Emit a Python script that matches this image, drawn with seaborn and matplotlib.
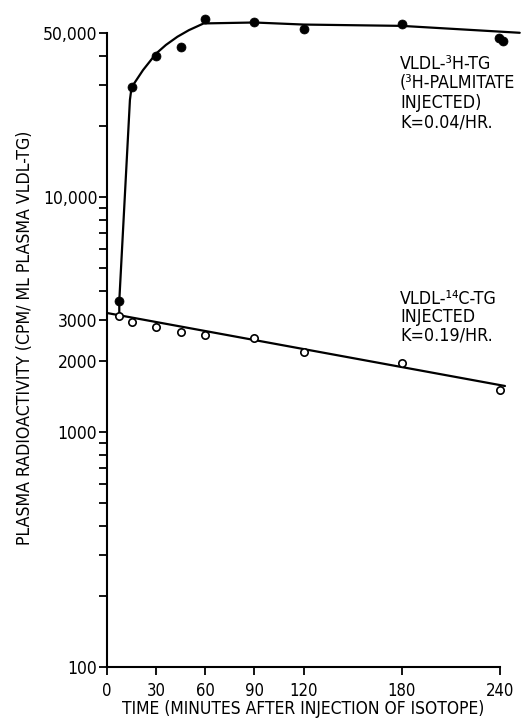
import matplotlib
matplotlib.use("Agg")
import matplotlib.pyplot as plt
from matplotlib import font_manager as fm
from matplotlib.ticker import FixedLocator, FixedFormatter, NullLocator
import pandas as pd
import seaborn as sns

# ---------------- data ----------------
h3_time = [7.5, 15, 30, 45, 60, 90, 120, 180, 239.5, 241.5]
h3_cpm = [3610, 29300, 39900, 43600, 57100, 55600, 51900, 54500, 47600, 46100]

c14_time = [7.5, 15, 30, 45, 60, 90, 120, 180, 240]
c14_cpm = [3120, 2930, 2800, 2670, 2590, 2520, 2190, 1970, 1510]

h3_curve_time = [7.5, 7.5, 14, 15, 22, 30, 36, 43, 50, 59, 90, 120, 180, 252]
h3_curve_cpm = [3120, 3610, 25900, 29300, 34700, 40800, 44400, 48100, 51300,
                54800, 55300, 54200, 53500, 50000]

c14_fit_time = [0, 243]
c14_fit_cpm = [3210, 1570]

x_ticks = [0, 30, 60, 90, 120, 180, 240]
x_tick_labels = ["0", "30", "60", "90", "120", "180", "240"]
y_ticks = [100, 200, 300, 400, 500, 600, 700, 800, 900,
           1000, 2000, 3000, 4000, 5000, 6000, 7000, 8000, 9000,
           10000, 20000, 30000, 40000, 50000]
y_tick_labels = ["100", "", "", "", "", "", "", "", "",
                 "1000", "2000", "3000", "", "", "", "", "", "",
                 "10,000", "", "", "", "50,000"]

label_h3 = "VLDL-\u00b3H-TG\n(\u00b3H-PALMITATE\nINJECTED)\nK=0.04/HR."
label_c14 = "VLDL-\u00b9\u2074C-TG\nINJECTED\nK=0.19/HR."
x_label = "TIME (MINUTES AFTER INJECTION OF ISOTOPE)"
y_label = "PLASMA RADIOACTIVITY (CPM/ ML PLASMA VLDL-TG)"

# ---------------- style ----------------
sns.set_theme(style="ticks")
family = "DejaVu Sans"
stretch = "normal"
if any(f.name == "DejaVu Sans" and str(f.stretch) == "condensed" for f in fm.fontManager.ttflist):
    stretch = "condensed"
plt.rcParams["font.family"] = [family]
plt.rcParams["font.stretch"] = stretch
plt.rcParams["axes.linewidth"] = 1.5
plt.rcParams["xtick.major.width"] = 1.3
plt.rcParams["ytick.major.width"] = 1.3
plt.rcParams["xtick.color"] = "black"
plt.rcParams["ytick.color"] = "black"
plt.rcParams["axes.edgecolor"] = "black"
plt.rcParams["text.color"] = "black"
plt.rcParams["axes.labelcolor"] = "black"

fig = plt.figure(figsize=(5.24, 7.27), dpi=100)
ax = fig.add_axes([0.2042, 0.0825, 0.797, 0.898])

curve_df = pd.DataFrame({"t": h3_curve_time, "cpm": h3_curve_cpm})
fit_df = pd.DataFrame({"t": c14_fit_time, "cpm": c14_fit_cpm})
h3_df = pd.DataFrame({"t": h3_time, "cpm": h3_cpm})
c14_df = pd.DataFrame({"t": c14_time, "cpm": c14_cpm})

sns.lineplot(data=curve_df, x="t", y="cpm", estimator=None, sort=False,
             color="black", linewidth=1.6, ax=ax)
sns.lineplot(data=fit_df, x="t", y="cpm", estimator=None, sort=False,
             color="black", linewidth=1.6, ax=ax)
sns.scatterplot(data=h3_df, x="t", y="cpm", marker="o", s=42, color="black",
                edgecolor="black", linewidth=0.5, zorder=4, ax=ax)
sns.scatterplot(data=c14_df, x="t", y="cpm", marker="o", s=28, color="white",
                edgecolor="black", linewidth=1.2, zorder=4, ax=ax)

ax.set_yscale("log")
ax.set_xlim(0, 255)
ax.set_ylim(100, 60000)
ax.xaxis.set_major_locator(FixedLocator(x_ticks))
ax.xaxis.set_major_formatter(FixedFormatter(x_tick_labels))
ax.yaxis.set_major_locator(FixedLocator(y_ticks))
ax.yaxis.set_major_formatter(FixedFormatter(y_tick_labels))
ax.yaxis.set_minor_locator(NullLocator())
ax.xaxis.set_minor_locator(NullLocator())
ax.tick_params(axis="y", direction="out", length=6, pad=1, labelsize=12.5)
ax.tick_params(axis="x", direction="out", length=6, pad=4.5, labelsize=12)

sns.despine(ax=ax)
ax.spines["left"].set_bounds(100, 50000)
ax.spines["bottom"].set_bounds(0, 240)

ax.set_xlabel(x_label, fontsize=12.5, va="top")
ax.xaxis.set_label_coords(0.4706, (667 - 700) / 653)
ax.set_ylabel(y_label, fontsize=12.7, va="center")
ax.yaxis.set_label_coords(-0.196, 0.504)

fig.text(400 / 524, 1 - 55 / 727, label_h3, ha="left", va="top",
         fontsize=12.8, linespacing=1.1)
fig.text(400 / 524, 1 - 290 / 727, label_c14, ha="left", va="top",
         fontsize=12.8, linespacing=1.03)

fig.savefig("out.png", dpi=100)
